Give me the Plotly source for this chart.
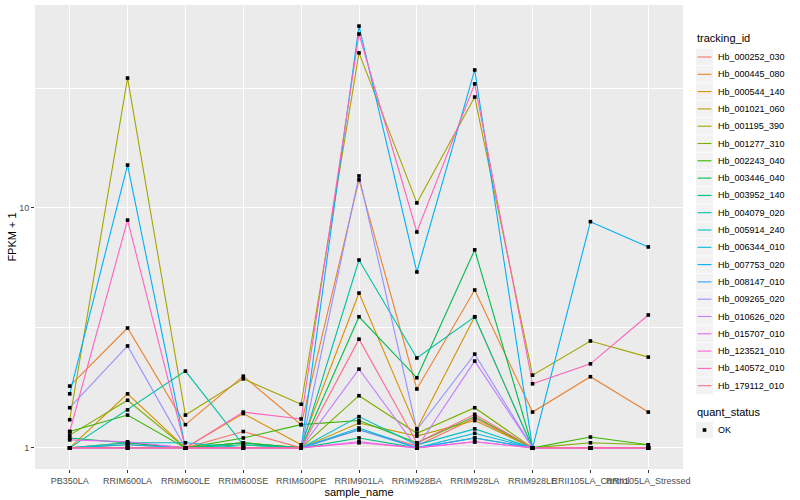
import plotly.graph_objects as go

samples = ["PB350LA", "RRIM600LA", "RRIM600LE", "RRIM600SE", "RRIM600PE",
           "RRIM901LA", "RRIM928BA", "RRIM928LA", "RRIM928LE",
           "RRII105LA_Control", "RRII105LA_Stressed"]

tracking_ids = ["Hb_000252_030", "Hb_000445_080", "Hb_000544_140", "Hb_001021_060",
                "Hb_001195_390", "Hb_001277_310", "Hb_002243_040", "Hb_003446_040",
                "Hb_003952_140", "Hb_004079_020", "Hb_005914_240", "Hb_006344_010",
                "Hb_007753_020", "Hb_008147_010", "Hb_009265_020", "Hb_010626_020",
                "Hb_015707_010", "Hb_123521_010", "Hb_140572_010", "Hb_179112_010"]

colors = ["#F8766D", "#EA8331", "#D89000", "#C09B00", "#A3A500", "#7CAE00", "#39B600",
          "#00BB4E", "#00BF7D", "#00C1A3", "#00BFC4", "#00BAE0", "#00B0F6", "#35A2FF",
          "#9590FF", "#C77CFF", "#E76BF3", "#FA62DB", "#FF62BC", "#FF6C91"]

# FPKM + 1 values per tracking_id, in sample order
Hb_000252_030 = [1.00, 1.03, 1.00, 1.17, 1.00, 1.19, 1.02, 1.33, 1.00, 1.00, 1.00]
Hb_000445_080 = [1.81, 3.16, 1.25, 1.99, 1.25, 13.1, 1.76, 4.55, 1.41, 1.98, 1.41]
Hb_000544_140 = [1.00, 1.68, 1.00, 1.39, 1.03, 4.42, 1.20, 3.52, 1.00, 1.00, 1.00]
Hb_001021_060 = [1.00, 1.05, 1.00, 1.05, 1.00, 1.27, 1.12, 1.30, 1.00, 1.00, 1.00]
Hb_001195_390 = [1.31, 34.8, 1.37, 1.94, 1.52, 44.3, 10.5, 29.0, 2.01, 2.79, 2.39]
Hb_001277_310 = [1.13, 1.58, 1.00, 1.05, 1.00, 1.65, 1.15, 1.47, 1.00, 1.05, 1.03]
Hb_002243_040 = [1.17, 1.37, 1.00, 1.10, 1.25, 1.30, 1.05, 1.35, 1.00, 1.11, 1.03]
Hb_003446_040 = [1.10, 1.05, 1.00, 1.05, 1.00, 3.52, 1.96, 6.69, 1.00, 1.00, 1.00]
Hb_003952_140 = [1.00, 1.00, 1.00, 1.03, 1.00, 1.10, 1.00, 1.10, 1.00, 1.00, 1.00]
Hb_004079_020 = [1.00, 1.44, 2.09, 1.03, 1.00, 6.07, 2.37, 3.52, 1.00, 1.00, 1.00]
Hb_005914_240 = [1.00, 1.05, 1.05, 1.00, 1.00, 1.35, 1.03, 1.20, 1.00, 1.00, 1.00]
Hb_006344_010 = [1.00, 1.03, 1.00, 1.00, 1.00, 1.21, 1.00, 1.15, 1.00, 1.00, 1.00]
Hb_007753_020 = [1.68, 15.1, 1.00, 1.00, 1.00, 57.3, 5.41, 37.6, 1.00, 8.77, 6.88]
Hb_008147_010 = [1.00, 1.00, 1.00, 1.00, 1.00, 1.19, 1.00, 1.10, 1.00, 1.00, 1.00]
Hb_009265_020 = [1.47, 2.66, 1.00, 1.00, 1.00, 13.6, 1.19, 2.46, 1.00, 1.00, 1.00]
Hb_010626_020 = [1.00, 1.00, 1.00, 1.00, 1.00, 2.13, 1.00, 2.30, 1.00, 1.00, 1.00]
Hb_015707_010 = [1.08, 1.06, 1.00, 1.00, 1.00, 1.06, 1.00, 1.06, 1.00, 1.00, 1.00]
Hb_123521_010 = [1.00, 1.00, 1.00, 1.00, 1.00, 1.05, 1.00, 1.06, 1.00, 1.00, 1.00]
Hb_140572_010 = [1.17, 8.90, 1.00, 1.41, 1.32, 53.1, 7.94, 32.9, 1.85, 2.24, 3.58]
Hb_179112_010 = [1.00, 1.00, 1.00, 1.00, 1.00, 2.84, 1.05, 1.38, 1.00, 1.00, 1.00]

series = [Hb_000252_030, Hb_000445_080, Hb_000544_140, Hb_001021_060, Hb_001195_390,
          Hb_001277_310, Hb_002243_040, Hb_003446_040, Hb_003952_140, Hb_004079_020,
          Hb_005914_240, Hb_006344_010, Hb_007753_020, Hb_008147_010, Hb_009265_020,
          Hb_010626_020, Hb_015707_010, Hb_123521_010, Hb_140572_010, Hb_179112_010]

quant_status = "OK"

FONT = "Liberation Sans, Arial, sans-serif"
W, H = 800, 500
ML, MR, MT, MB = 35, 117, 5, 31
PW, PH = W - ML - MR, H - MT - MB


def px(x):
    return (x - ML) / PW


def py(y):
    return (H - MB - y) / PH


fig = go.Figure()
for name, vals, col in zip(tracking_ids, series, colors):
    fig.add_trace(go.Scatter(x=samples, y=vals, mode="lines", name=name,
                             line=dict(color=col, width=1.1), showlegend=False))

all_x = [s for vals in series for s in samples]
all_y = [v for vals in series for v in vals]
fig.add_trace(go.Scatter(x=all_x, y=all_y, mode="markers", name=quant_status,
                         marker=dict(color="black", symbol="square", size=3.6),
                         showlegend=False))

# ggplot-style legends (keys drawn in paper coordinates)
shapes, annots = [], []
LX = 696
annots.append(dict(text="tracking_id", x=px(LX - 1), y=py(38), xref="paper", yref="paper",
                   xanchor="left", yanchor="middle", showarrow=False,
                   font=dict(size=11, color="black", family=FONT)))
step = 17.3
for i, (name, col) in enumerate(zip(tracking_ids, colors)):
    cy = 57 + i * step
    shapes.append(dict(type="rect", xref="paper", yref="paper",
                       x0=px(LX), x1=px(LX + 17), y0=py(cy - 8.3), y1=py(cy + 8.3),
                       fillcolor="#F2F2F2", line=dict(width=0), layer="above"))
    shapes.append(dict(type="line", xref="paper", yref="paper",
                       x0=px(LX + 1.5), x1=px(LX + 15.5), y0=py(cy), y1=py(cy),
                       line=dict(color=col, width=1.1), layer="above"))
    annots.append(dict(text=name, x=px(LX + 20), y=py(cy), xref="paper", yref="paper",
                       xanchor="left", yanchor="middle", showarrow=False,
                       font=dict(size=9, color="black", family=FONT)))

annots.append(dict(text="quant_status", x=px(LX - 1), y=py(412), xref="paper", yref="paper",
                   xanchor="left", yanchor="middle", showarrow=False,
                   font=dict(size=11, color="black", family=FONT)))
cy = 430
shapes.append(dict(type="rect", xref="paper", yref="paper",
                   x0=px(LX), x1=px(LX + 17), y0=py(cy - 8.3), y1=py(cy + 8.3),
                   fillcolor="#F2F2F2", line=dict(width=0), layer="above"))
shapes.append(dict(type="rect", xref="paper", yref="paper",
                   x0=px(LX + 6.7), x1=px(LX + 10.3), y0=py(cy - 1.8), y1=py(cy + 1.8),
                   fillcolor="black", line=dict(width=0), layer="above"))
annots.append(dict(text=quant_status, x=px(LX + 20), y=py(cy), xref="paper", yref="paper",
                   xanchor="left", yanchor="middle", showarrow=False,
                   font=dict(size=9, color="black", family=FONT)))

fig.update_layout(
    width=W, height=H,
    margin=dict(l=ML, r=MR, t=MT, b=MB),
    paper_bgcolor="white", plot_bgcolor="#EBEBEB",
    font=dict(family=FONT, size=9, color="#4D4D4D"),
    showlegend=False, shapes=shapes, annotations=annots,
)

fig.update_xaxes(type="category", categoryorder="array", categoryarray=samples,
                 range=[-0.6, len(samples) - 0.4], tickangle=0, automargin=False,
                 showgrid=True, gridcolor="white", gridwidth=1.1,
                 ticks="outside", ticklen=3, tickcolor="#333333", tickwidth=1,
                 tickfont=dict(size=9, color="#4D4D4D"), zeroline=False,
                 title=dict(text="sample_name", font=dict(size=11, color="black"), standoff=1))

fig.update_yaxes(type="log", range=[-0.088, 1.846], automargin=False,
                 tickvals=[1, 10], ticktext=["1", "10"],
                 showgrid=True, gridcolor="white", gridwidth=1.1,
                 minor=dict(tickvals=[3.1623, 31.623], showgrid=True, gridcolor="white",
                            gridwidth=0.5, ticks=""),
                 ticks="outside", ticklen=3, tickcolor="#333333", tickwidth=1,
                 tickfont=dict(size=9, color="#4D4D4D"), zeroline=False,
                 title=dict(text="FPKM + 1", font=dict(size=11, color="black"), standoff=0))

fig.write_html("out.html", config={"displayModeBar": False},
               post_script="document.body.style.margin='0px';document.body.style.padding='0px';")
